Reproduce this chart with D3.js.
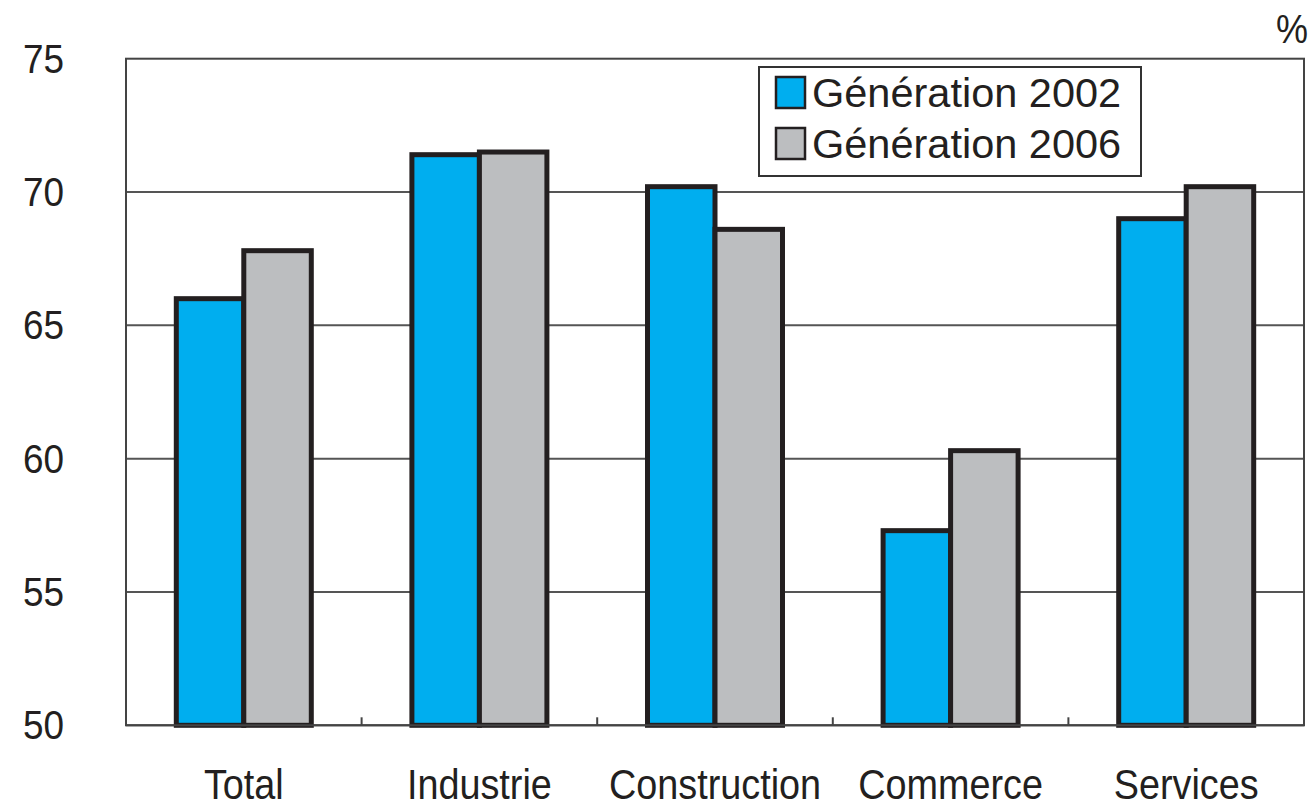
<!DOCTYPE html>
<html>
<head>
<meta charset="utf-8">
<script src="https://cdn.jsdelivr.net/npm/d3@7"></script>
<style>
	body { margin: 0; background: #fff; }
	text { font-family: 'Liberation Sans', Arial, sans-serif; fill: #231f20; }
</style>
</head>
<body>
<script>
// categories along the x axis
var categories = ['Total', 'Industrie', 'Construction', 'Commerce', 'Services'];
// one array per series, same order as categories
var gen2002 = [66.0, 71.4, 70.2, 57.3, 69.0];
var gen2006 = [67.8, 71.5, 68.6, 60.3, 70.2];
var seriesNames = ['Génération 2002', 'Génération 2006'];
var yTicks = [50, 55, 60, 65, 70, 75];

// sizing (note: 'top' is taken by window.top, so prefix these)
var W = 1312, H = 807,
	pLeft = 126, pRight = 1304, pTop = 58.7, pBottom = 725.3,
	barFrac = 0.2865,
	colors = ['#00aeef', '#bcbec0'];

var svg = d3.select('body').append('svg')
	.attr('width', W)
	.attr('height', H);

var x = d3.scaleBand().domain(categories).range([pLeft, pRight]).padding(0);
var y = d3.scaleLinear().domain([50, 75]).range([pBottom, pTop]);
var bw = x.bandwidth() * barFrac;

// horizontal gridlines (drawn first so bars sit on top)
svg.selectAll('.grid')
	.data(yTicks.slice(1, -1))
	.enter().append('line')
	.attr('x1', pLeft).attr('x2', pRight)
	.attr('y1', function(d) { return y(d); })
	.attr('y2', function(d) { return y(d); })
	.attr('stroke', '#555')
	.attr('stroke-width', 2);

// plot frame
svg.append('rect')
	.attr('x', pLeft).attr('y', pTop)
	.attr('width', pRight - pLeft).attr('height', pBottom - pTop)
	.attr('fill', 'none')
	.attr('stroke', '#444')
	.attr('stroke-width', 2);

// small ticks between categories on the bottom axis
svg.selectAll('.xtick')
	.data(categories.slice(1))
	.enter().append('line')
	.attr('x1', function(d) { return x(d); })
	.attr('x2', function(d) { return x(d); })
	.attr('y1', pBottom).attr('y2', pBottom - 8)
	.attr('stroke', '#444')
	.attr('stroke-width', 2);

// bars, one group per series
[gen2002, gen2006].forEach(function(vals, s) {
	svg.selectAll('.bar' + s)
		.data(vals)
		.enter().append('rect')
		.attr('x', function(d, i) { return x(categories[i]) + x.bandwidth() / 2 - bw + s * bw; })
		.attr('y', function(d) { return y(d); })
		.attr('width', bw)
		.attr('height', function(d) { return y(50) - y(d); })
		.attr('fill', colors[s])
		.attr('stroke', '#231f20')
		.attr('stroke-width', 5);
});

// redraw bottom axis line over the bar strokes
svg.append('line')
	.attr('x1', pLeft).attr('x2', pRight)
	.attr('y1', pBottom).attr('y2', pBottom)
	.attr('stroke', '#444')
	.attr('stroke-width', 2);

// y tick labels
svg.selectAll('.ylab')
	.data(yTicks)
	.enter().append('text')
	.text(function(d) { return d; })
	.attr('text-anchor', 'end')
	.attr('font-size', 41)
	.attr('transform', function(d) { return 'translate(64,' + (y(d) + 14) + ') scale(0.9,1)'; });

// unit sign
svg.append('text')
	.text('%')
	.attr('text-anchor', 'end')
	.attr('font-size', 40)
	.attr('transform', 'translate(1308,43) scale(0.9,1)');

// category labels (kept a touch above the bottom edge)
svg.selectAll('.xlab')
	.data(categories)
	.enter().append('text')
	.text(function(d) { return d; })
	.attr('text-anchor', 'middle')
	.attr('font-size', 42)
	.attr('transform', function(d) { return 'translate(' + (x(d) + x.bandwidth() / 2) + ',799) scale(0.9,1)'; });

// legend
svg.append('rect')
	.attr('x', 759).attr('y', 67)
	.attr('width', 382).attr('height', 109)
	.attr('fill', '#fff')
	.attr('stroke', '#333')
	.attr('stroke-width', 2);

seriesNames.forEach(function(name, s) {
	svg.append('rect')
		.attr('x', 776).attr('y', 77 + s * 51)
		.attr('width', 29).attr('height', 31)
		.attr('fill', colors[s])
		.attr('stroke', '#231f20')
		.attr('stroke-width', 2.5);
	svg.append('text')
		.text(name)
		.attr('x', 812)
		.attr('y', 107 + s * 51)
		.attr('font-size', 41.5);
});
</script>
</body>
</html>
